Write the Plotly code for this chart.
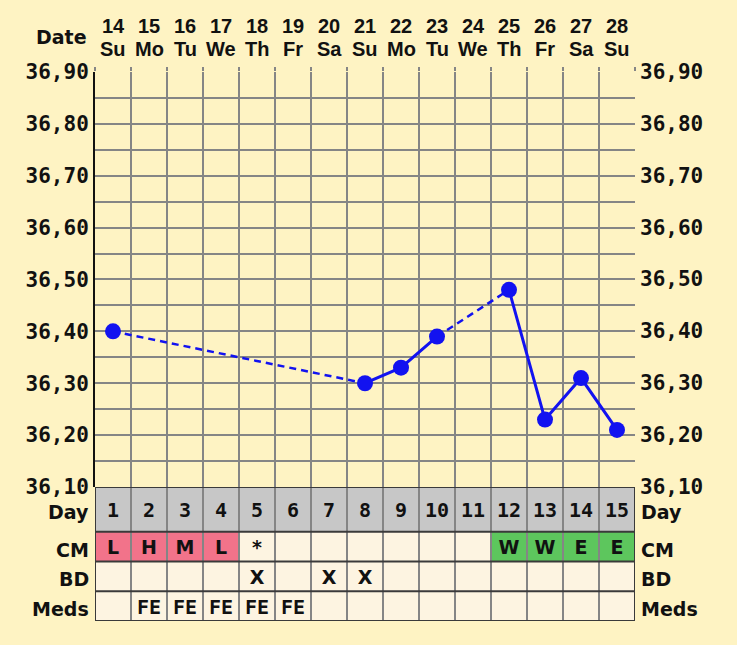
import plotly.graph_objects as go

# ---------------- data ----------------
dates = ["14", "15", "16", "17", "18", "19", "20", "21", "22", "23", "24", "25", "26", "27", "28"]
weekdays = ["Su", "Mo", "Tu", "We", "Th", "Fr", "Sa", "Su", "Mo", "Tu", "We", "Th", "Fr", "Sa", "Su"]
cycle_days = list(range(1, 16))
temps = [36.40, None, None, None, None, None, None, 36.30, 36.33, 36.39, None, 36.48, 36.23, 36.31, 36.21]
cm = ["L", "H", "M", "L", "*", "", "", "", "", "", "", "W", "W", "E", "E"]
bd = ["", "", "", "", "X", "", "X", "X", "", "", "", "", "", "", ""]
meds = ["", "FE", "FE", "FE", "FE", "FE", "", "", "", "", "", "", "", "", ""]
temp_ticks = [36.10, 36.20, 36.30, 36.40, 36.50, 36.60, 36.70, 36.80, 36.90]
grid_steps = [36.10 + 0.05 * i for i in range(17)]
row_labels = ["Day", "CM", "BD", "Meds"]

# ---------------- styles ----------------
BG = "#FEF3C3"
CELL = "#FDF4E1"
DAYROW = "#C7C7C7"
PINK = "#F2738A"
GREEN = "#5DC65D"
GRID = "#858585"
DARK = "#3A3A3A"
BLUE = "#1212F0"
FONT = "DejaVu Sans"
MONO = "DejaVu Sans Mono"
HEAD = "Liberation Sans"
cm_colors = {"L": PINK, "H": PINK, "M": PINK, "W": GREEN, "E": GREEN}

# table row geometry on y2 (units): Day row taller
row_y = {"Day": (3.0, 4.5), "CM": (2.0, 3.0), "BD": (1.0, 2.0), "Meds": (0.0, 1.0)}
TEXT_DROP = 0.1
TEMP_DOMAIN_START = 135 / 553

fig = go.Figure()

# dashed bridge segments across missing days
bx, by = [], []
known = [(d, t) for d, t in zip(cycle_days, temps) if t is not None]
for (d0, t0), (d1, t1) in zip(known[:-1], known[1:]):
    if d1 - d0 > 1:
        bx += [d0, d1, None]
        by += [t0, t1, None]
fig.add_trace(go.Scatter(x=bx, y=by, mode="lines", xaxis="x", yaxis="y",
                         line=dict(color=BLUE, width=2.5, dash="7px,5px"),
                         hoverinfo="skip", showlegend=False))
fig.add_trace(go.Scatter(x=cycle_days, y=temps, mode="lines+markers", connectgaps=False,
                         xaxis="x", yaxis="y",
                         line=dict(color=BLUE, width=3),
                         marker=dict(color=BLUE, size=16),
                         showlegend=False))

# table texts
rows_text = {"Day": [str(d) for d in cycle_days], "CM": cm, "BD": bd, "Meds": meds}
for name, vals in rows_text.items():
    y0, y1 = row_y[name]
    fam = MONO if name in ("Day", "Meds") else FONT
    fig.add_trace(go.Scatter(x=cycle_days, y=[(y0 + y1) / 2 - TEXT_DROP] * len(cycle_days),
                             text=vals, mode="text", xaxis="x2", yaxis="y2",
                             textfont=dict(family=fam, size=20 if fam == MONO else 19,
                                           color="#111", weight="bold"),
                             textposition="middle center",
                             hoverinfo="skip", showlegend=False))

shapes = []
# table cell fills
for name in row_labels:
    y0, y1 = row_y[name]
    for i, d in enumerate(cycle_days):
        if name == "Day":
            fill = DAYROW
        elif name == "CM":
            fill = cm_colors.get(cm[i], CELL)
        else:
            fill = CELL
        shapes.append(dict(type="rect", xref="x2", yref="y2", x0=d - 0.5, x1=d + 0.5,
                           y0=y0, y1=y1, fillcolor=fill, line=dict(width=0), layer="below"))
# table lines
for d in range(16):
    shapes.append(dict(type="line", xref="x2", yref="y2", x0=d + 0.5, x1=d + 0.5, y0=0, y1=4.5,
                       line=dict(color=DARK if d in (0, 15) else GRID, width=2)))
for yv in [0, 1, 2, 3, 4.5]:
    shapes.append(dict(type="line", xref="x2", yref="y2", x0=0.5, x1=15.5, y0=yv, y1=yv,
                       line=dict(color=DARK, width=2)))

annotations = []
# date header
for d, dt, wd in zip(cycle_days, dates, weekdays):
    annotations.append(dict(x=d, y=1, xref="x", yref="paper", text=dt, showarrow=False,
                            yanchor="middle", yshift=46,
                            font=dict(family=HEAD, size=20, color="#111", weight="bold")))
    annotations.append(dict(x=d, y=1, xref="x", yref="paper", text=wd, showarrow=False,
                            yanchor="middle", yshift=23,
                            font=dict(family=HEAD, size=20, color="#111", weight="bold")))
annotations.append(dict(x=0, y=1, xref="paper", yref="paper", text="Date", showarrow=False,
                        xanchor="right", yanchor="middle", yshift=35, xshift=-6,
                        font=dict(family=FONT, size=19, color="#111", weight="bold")))
# right temperature labels
for t in temp_ticks:
    annotations.append(dict(x=1, y=t, xref="paper", yref="y", text=f"{t:.2f}".replace(".", ","),
                            showarrow=False, xanchor="left", xshift=3,
                            font=dict(family=MONO, size=21, color="#111", weight="bold")))
# row labels both sides
for name in row_labels:
    y0, y1 = row_y[name]
    for xp, anc, sh in [(0, "right", -4), (1, "left", 4)]:
        annotations.append(dict(x=xp, y=(y0 + y1) / 2 - TEXT_DROP, xref="paper", yref="y2", text=name,
                                showarrow=False, xanchor=anc, xshift=sh,
                                font=dict(family=FONT, size=19, color="#111", weight="bold")))

fig.update_layout(
    width=737, height=645,
    margin=dict(l=95, r=102, t=72, b=20),
    paper_bgcolor=BG, plot_bgcolor=BG,
    showlegend=False,
    xaxis=dict(domain=[0, 1], range=[0.5, 15.5], anchor="y",
               tickvals=[d + 0.5 for d in range(16)], showticklabels=False,
               showgrid=True, gridcolor=GRID, gridwidth=2, zeroline=False,
               ticks="outside", ticklen=4, tickcolor=GRID, tickwidth=2, side="top"),
    yaxis=dict(domain=[TEMP_DOMAIN_START, 1], range=[36.1, 36.9], anchor="x",
               tickvals=grid_steps,
               ticktext=[(f"{v:.2f}".replace(".", ",") if i % 2 == 0 else "") for i, v in enumerate(grid_steps)],
               showgrid=True, gridcolor=GRID, gridwidth=2, zeroline=False,
               showline=True, linecolor="#111", linewidth=2, ticks="",
               tickfont=dict(family=MONO, size=21, color="#111", weight="bold")),
    xaxis2=dict(domain=[0, 1], range=[0.5, 15.5], anchor="y2", visible=False),
    yaxis2=dict(domain=[0, TEMP_DOMAIN_START], range=[0, 4.5], anchor="x2", visible=False),
    shapes=shapes,
    annotations=annotations,
)

fig.write_html("out.html", config={"displayModeBar": False},
               post_script="document.body.style.margin='0';document.body.style.background='%s';" % BG)
